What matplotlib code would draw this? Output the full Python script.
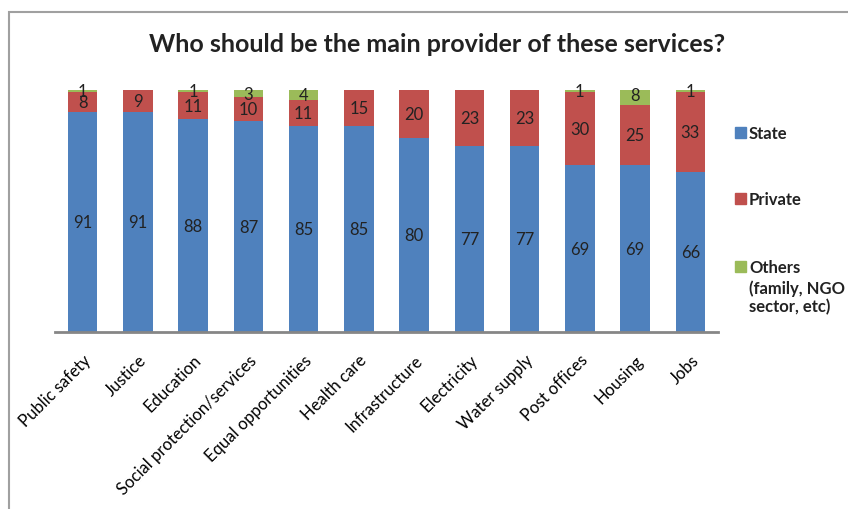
import matplotlib.pyplot as plt
import numpy as np
from matplotlib.patches import Rectangle

plt.rcParams['font.family'] = ['Lato', 'DejaVu Sans']

categories = ['Public safety', 'Justice', 'Education', 'Social protection/services',
              'Equal opportunities', 'Health care', 'Infrastructure', 'Electricity',
              'Water supply', 'Post offices', 'Housing', 'Jobs']
state = [91, 91, 88, 87, 85, 85, 80, 77, 77, 69, 69, 66]
private = [8, 9, 11, 10, 11, 15, 20, 23, 23, 30, 25, 33]
others = [1, 0, 1, 3, 4, 0, 0, 0, 0, 1, 8, 1]

series = [('State', state, '#4F81BD'),
          ('Private', private, '#C0504D'),
          ('Others\n(family, NGO\nsector, etc)', others, '#9BBB59')]

fig = plt.figure(figsize=(8.48, 5.1), dpi=100)
# outer chart frame (runs off the right and bottom edges)
fig.patches.append(Rectangle((9/848, -0.1), 1.2, (510-13)/510 + 0.1,
                             transform=fig.transFigure, fill=False,
                             edgecolor='#a0a0a0', lw=1.5))

ax = fig.add_axes([55/848, (510-333)/510, 663/848, 242/510])
x = np.arange(len(categories))
bottom = np.zeros(len(categories))
for name, vals, col in series:
    vals = np.array(vals, dtype=float)
    ax.bar(x, vals, 0.53, bottom=bottom, color=col, label=name)
    for xi, b, v in zip(x, bottom, vals):
        if v > 0:
            ax.text(xi, b + v/2, '%d' % v, ha='center', va='center',
                    fontsize=12, color='#222222')
    bottom += vals

ax.set_xlim(-0.5, len(categories) - 0.5)
ax.set_ylim(0, 100)
ax.set_yticks([])
for s in ['top', 'right', 'left']:
    ax.spines[s].set_visible(False)
ax.spines['bottom'].set_color('#868686')
ax.spines['bottom'].set_linewidth(2)
ax.set_xticks(x)
ax.set_xticklabels(categories, rotation=45, ha='right', rotation_mode='anchor',
                   fontsize=12)
ax.tick_params(axis='x', length=0, pad=14)

fig.text(0.515, (510-45)/510, 'Who should be the main provider of these services?',
         ha='center', va='center', fontsize=18, fontweight='bold', color='#222222')

# legend drawn by hand so the square sits on the first text line
leg_y = [134, 200, 268]
for (name, _, col), yy in zip(series, leg_y):
    fig.patches.append(Rectangle((735/848, (510-yy-5)/510), 11/848, 11/510,
                                 transform=fig.transFigure, color=col))
    fig.text(749/848, (510-yy)/510, name.split('\n')[0], ha='left', va='center',
             fontsize=12, fontweight='bold', color='#222222')
    rest = name.split('\n')[1:]
    if rest:
        fig.text(749/848, (510-yy-12)/510, '\n'.join(rest), ha='left', va='top',
                 fontsize=12, fontweight='bold', color='#222222', linespacing=1.2)

fig.savefig('out.png', dpi=100)
